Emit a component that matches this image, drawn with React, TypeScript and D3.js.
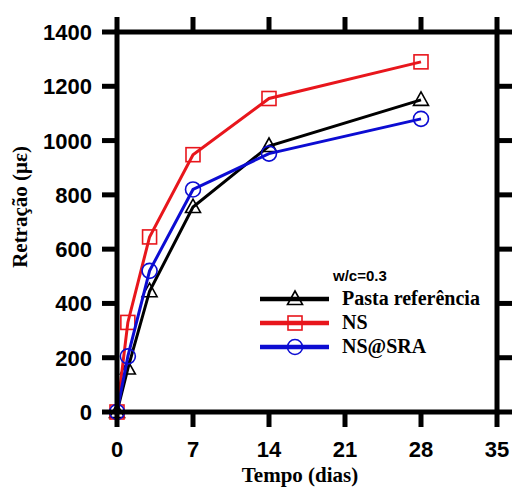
import React from "react";
import * as d3 from "d3";

const days = [0, 1, 3, 7, 14, 28];
const pasta = [0, 160, 445, 755, 980, 1150];
const ns = [0, 330, 645, 948, 1155, 1290];
const nsSra = [0, 205, 520, 820, 952, 1080];
const xTicks = [0, 7, 14, 21, 28, 35];
const yTicks = [0, 200, 400, 600, 800, 1000, 1200, 1400];
const seriesNames = ["Pasta referência", "NS", "NS@SRA"];
const seriesColors = ["#000000", "#e8161c", "#0c0cd2"];
const seriesMarkers = ["triangle", "square", "circle"];

const W = 512, H = 489;
const L = 117, R = 497, T = 32, B = 412;

export default function App() {
  const x = d3.scaleLinear().domain([0, 35]).range([L, R]);
  const y = d3.scaleLinear().domain([0, 1400]).range([B, T]);
  const line = d3.line<number>().x((_, i) => x(days[i])).y((v) => y(v));
  const allSeries = [pasta, ns, nsSra];
  const tickLen = 15;
  const sw = 5;
  const sans = "Arial, 'Liberation Sans', sans-serif";
  const serif = "'Times New Roman', 'Liberation Serif', serif";

  const marker = (type: string, cx: number, cy: number, color: string, key: string) => {
    if (type === "square")
      return <rect key={key} x={cx - 7} y={cy - 7} width={14} height={14} fill="none" stroke={color} strokeWidth={1.6} />;
    if (type === "circle")
      return <circle key={key} cx={cx} cy={cy} r={7.5} fill="none" stroke={color} strokeWidth={1.6} />;
    const p = `M${cx},${cy - 8} L${cx + 7.5},${cy + 5.5} L${cx - 7.5},${cy + 5.5} Z`;
    return <path key={key} d={p} fill="none" stroke={color} strokeWidth={1.6} />;
  };

  return (
    <svg width={W} height={H} style={{ position: "absolute", left: 0, top: 0, background: "#fff" }}>
      <rect width={W} height={H} fill="#fff" />
      {allSeries.map((s, si) => (
        <g key={si}>
          <path d={line(s) || ""} fill="none" stroke={seriesColors[si]} strokeWidth={3} />
          {s.map((v, i) => marker(seriesMarkers[si], x(days[i]), y(v), seriesColors[si], `m${si}-${i}`))}
        </g>
      ))}
      <rect x={L} y={T} width={R - L} height={B - T} fill="none" stroke="#000" strokeWidth={sw} />
      {xTicks.map((t) => (
        <g key={"xt" + t}>
          <line x1={x(t)} x2={x(t)} y1={B} y2={B + tickLen} stroke="#000" strokeWidth={sw} />
          <line x1={x(t)} x2={x(t)} y1={T} y2={T - tickLen} stroke="#000" strokeWidth={sw} />
          <text x={x(t)} y={457} textAnchor="middle" fontFamily={sans} fontWeight="bold" fontSize={22}>{t}</text>
        </g>
      ))}
      {yTicks.map((t) => (
        <g key={"yt" + t}>
          <line x1={L} x2={L - tickLen} y1={y(t)} y2={y(t)} stroke="#000" strokeWidth={sw} />
          <line x1={R} x2={R + tickLen} y1={y(t)} y2={y(t)} stroke="#000" strokeWidth={sw} />
          <text x={L - 25} y={y(t) + 8} textAnchor="end" fontFamily={sans} fontWeight="bold" fontSize={22}>{t}</text>
        </g>
      ))}
      <text x={300} y={482} textAnchor="middle" fontFamily={serif} fontWeight="bold" fontSize={21}>Tempo (dias)</text>
      <text transform={`translate(27, 207) rotate(-90)`} textAnchor="middle" fontFamily={serif} fontWeight="bold" fontSize={21}>Retração (με)</text>
      <text x={333} y={281} fontFamily={sans} fontWeight="bold" fontSize={15}>w/c=0.3</text>
      {seriesNames.map((n, i) => {
        const ly = 299 + i * 24;
        return (
          <g key={"lg" + i}>
            <line x1={260} x2={329} y1={ly} y2={ly} stroke={seriesColors[i]} strokeWidth={4.5} />
            {marker(seriesMarkers[i], 295, ly, seriesColors[i], "lm" + i)}
            <text x={342} y={ly + 6} fontFamily={serif} fontWeight="bold" fontSize={20}>{n}</text>
          </g>
        );
      })}
    </svg>
  );
}
